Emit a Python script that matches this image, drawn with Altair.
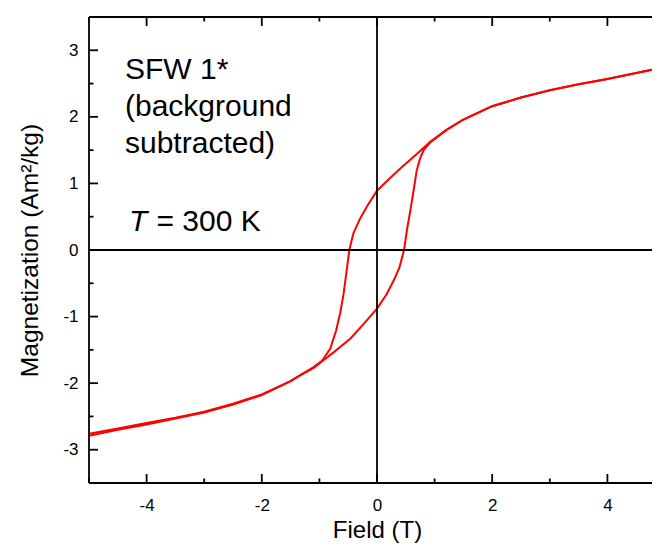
import altair as alt
import pandas as pd

# Hysteresis loop, descending branch (+5 T -> -5 T)
down_x = [5, 4.5, 4, 3.5, 3, 2.5, 2, 1.5, 1.2, 0.93, 0.7, 0.4, 0.2, 0, -0.17, -0.3, -0.41,
          -0.48, -0.53, -0.58, -0.64, -0.71, -0.81, -0.95, -1.1, -1.33, -1.5, -2, -2.5, -3,
          -3.5, -4, -4.5, -5]
down_y = [2.75, 2.66, 2.57, 2.49, 2.40, 2.29, 2.16, 1.96, 1.80, 1.63, 1.45, 1.22, 1.06, 0.89,
          0.66, 0.46, 0.25, 0.0, -0.33, -0.66, -0.95, -1.21, -1.48, -1.66, -1.76, -1.88, -1.97,
          -2.17, -2.31, -2.43, -2.52, -2.60, -2.68, -2.76]
# ascending branch (-5 T -> +5 T)
up_x = [-5, -4.5, -4, -3.5, -3, -2.5, -2, -1.5, -1.33, -1.1, -0.95, -0.7, -0.46, -0.2, 0,
        0.17, 0.3, 0.39, 0.47, 0.52, 0.58, 0.64, 0.69, 0.75, 0.81, 0.93, 1.2, 1.5, 2, 2.5, 3,
        3.5, 4, 4.5, 5]
up_y = [-2.79, -2.70, -2.62, -2.53, -2.44, -2.32, -2.18, -1.97, -1.88, -1.77, -1.67, -1.50,
        -1.33, -1.08, -0.88, -0.66, -0.44, -0.26, 0.0, 0.30, 0.60, 0.92, 1.20, 1.38, 1.50,
        1.62, 1.80, 1.96, 2.16, 2.29, 2.40, 2.49, 2.57, 2.66, 2.74]

x_major = [-4, -2, 0, 2, 4]
x_minor = [-5, -3, -1, 1, 3, 5]
y_major = [-3, -2, -1, 0, 1, 2, 3]
y_minor = [-2.5, -1.5, -0.5, 0.5, 1.5, 2.5]

annotation_lines = ["SFW 1*", "(background", "subtracted)"]
temp_symbol = "T"
temp_rest = "= 300 K"

x_title = "Field (T)"
y_title = "Magnetization (Am²/kg)"

FULL_W, H = 576, 466   # full plot frame (its right edge lies past the page)
W = 563                # part of the plot that fits on the page
FONT = "Liberation Sans"
LBL = "datum.value < 0 ? '-' + abs(datum.value) : '' + datum.value"
SW = 1.8

rows = []
for i, (xv, yv) in enumerate(zip(down_x, down_y)):
    rows.append({"branch": "down", "i": i, "H": xv, "M": yv})
for i, (xv, yv) in enumerate(zip(up_x, up_y)):
    rows.append({"branch": "up", "i": i, "H": xv, "M": yv})
loop = pd.DataFrame(rows)

xscale = alt.Scale(domain=[-5, 5], range=[0, FULL_W], nice=False, zero=False)
yscale = alt.Scale(domain=[-3.5, 3.5], nice=False, zero=False)

xaxis = alt.Axis(values=x_major, title=x_title, ticks=False, tickSize=0, domain=False,
                 grid=False, labelPadding=14, labelFontSize=17, labelFont=FONT,
                 labelColor="black", titleFont=FONT, titleFontSize=24,
                 titleFontWeight="normal", titleColor="black", titlePadding=5,
                 titleAnchor="start", titleAlign="center", titleX=288,
                 labelFlush=False, labelExpr=LBL)
yaxis = alt.Axis(values=y_major, title=y_title, ticks=False, tickSize=0, domain=False,
                 grid=False, labelPadding=11, labelFontSize=17, labelFont=FONT,
                 labelColor="black", titleFont=FONT, titleFontSize=24.5,
                 titleFontWeight="normal", titleColor="black", titlePadding=20,
                 labelFlush=False, labelExpr=LBL)


def X(field):
    return alt.X(field, type="quantitative", scale=xscale, axis=xaxis, title=x_title)


def Y(field):
    return alt.Y(field, type="quantitative", scale=yscale, axis=yaxis, title=y_title)


curve = alt.Chart(loop).mark_line(color="#ff0000", strokeWidth=2, clip=True).encode(
    x=X("H"), y=Y("M"), detail="branch:N", order="i:Q",
)

zero_df = pd.DataFrame({"v": [0]})
vzero = alt.Chart(zero_df).mark_rule(color="black", strokeWidth=SW).encode(x=X("v"))
hzero = alt.Chart(zero_df).mark_rule(color="black", strokeWidth=SW).encode(y=Y("v"))

# plot frame (left, top, bottom; the right side falls outside the page)
frame_h = alt.Chart(pd.DataFrame({"v": [-3.5, 3.5]})).mark_rule(
    color="black", strokeWidth=SW).encode(y=Y("v"), x=alt.value(0), x2=alt.value(FULL_W))
frame_v = alt.Chart(pd.DataFrame({"v": [-5]})).mark_rule(
    color="black", strokeWidth=SW).encode(x=X("v"))

xmaj_df = pd.DataFrame({"v": x_major})
xmin_df = pd.DataFrame({"v": x_minor})
ymaj_df = pd.DataFrame({"v": y_major})
ymin_df = pd.DataFrame({"v": y_minor})


def xticks(df, length):
    bot = alt.Chart(df).mark_rule(color="black", strokeWidth=SW).encode(
        x=X("v"), y=alt.value(H), y2=alt.value(H - length))
    top = alt.Chart(df).mark_rule(color="black", strokeWidth=SW).encode(
        x=X("v"), y=alt.value(0), y2=alt.value(length))
    return [bot, top]


def yticks(df, length):
    left = alt.Chart(df).mark_rule(color="black", strokeWidth=SW).encode(
        y=Y("v"), x=alt.value(0), x2=alt.value(length))
    right = alt.Chart(df).mark_rule(color="black", strokeWidth=SW).encode(
        y=Y("v"), x=alt.value(FULL_W), x2=alt.value(FULL_W - length))
    return [left, right]


ann = alt.Chart(pd.DataFrame({"t": ["\n".join(annotation_lines)]})).mark_text(
    align="left", baseline="alphabetic", fontSize=30, font=FONT, color="black",
    lineHeight=37, lineBreak="\n").encode(x=alt.value(36), y=alt.value(62.3), text="t:N")
t_sym = alt.Chart(pd.DataFrame({"t": [temp_symbol]})).mark_text(
    align="left", baseline="alphabetic", fontSize=30, font=FONT, fontStyle="italic",
    color="black").encode(x=alt.value(40), y=alt.value(213.7), text="t:N")
t_rest = alt.Chart(pd.DataFrame({"t": [temp_rest]})).mark_text(
    align="left", baseline="alphabetic", fontSize=30, font=FONT,
    color="black").encode(x=alt.value(67.5), y=alt.value(213.7), text="t:N")

layers = [curve, vzero, hzero, frame_h, frame_v]
layers += xticks(xmaj_df, 9) + xticks(xmin_df, 4.5)
layers += yticks(ymaj_df, 9) + yticks(ymin_df, 4.5)
layers += [ann, t_sym, t_rest]

chart = alt.layer(*layers).properties(
    width=W, height=H,
    autosize=alt.AutoSizeParams(type="none"),
    padding={"left": 81, "top": 9, "right": 0, "bottom": 60},
).configure(background="white").configure_view(stroke=None)

chart.save("out.html", embed_options={"renderer": "svg", "actions": False})
